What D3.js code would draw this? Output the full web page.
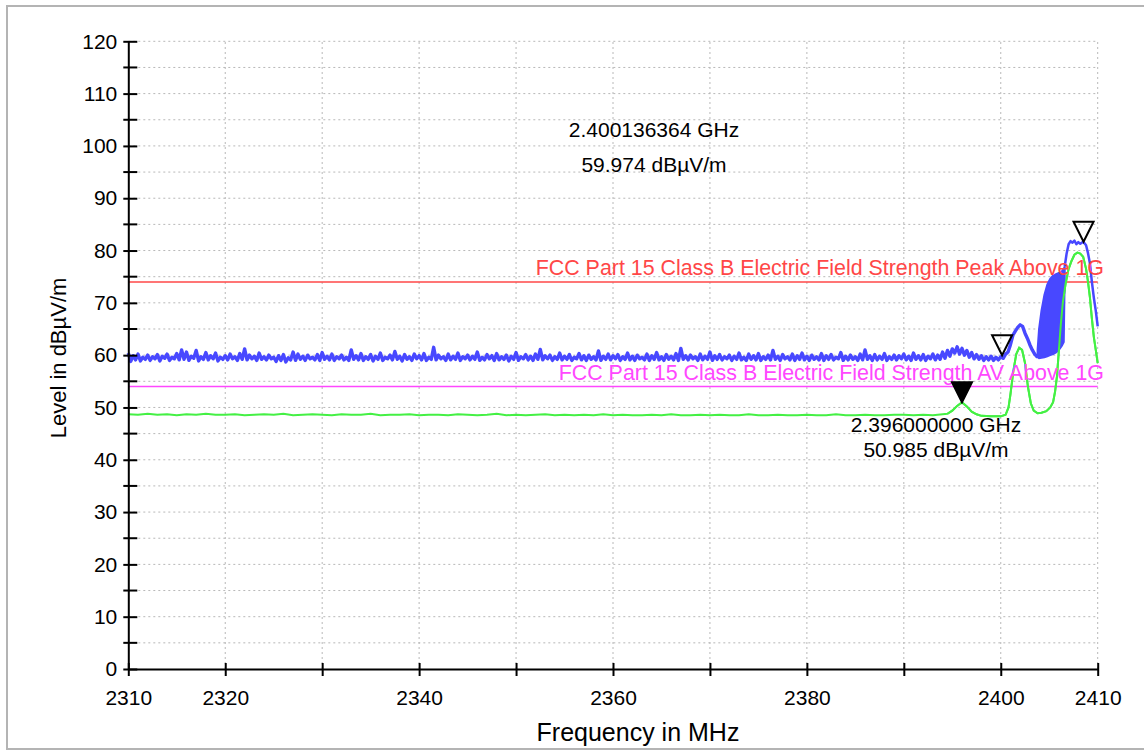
<!DOCTYPE html>
<html>
<head>
<meta charset="utf-8">
<title>Level vs Frequency</title>
<script src="https://cdnjs.cloudflare.com/ajax/libs/d3/7.8.5/d3.min.js"></script>
<style>
    body { margin:0; background:#fff; }
    svg { display:block; font-family:"Liberation Sans", Arial, sans-serif; }
    .axis text { font-size:21px; fill:#000; }
    .axis path, .axis line { stroke:#000; stroke-width:2px; }
    .grid line { stroke:#b8b8b8; stroke-width:1px; stroke-dasharray:2,3; }
</style>
</head>
<body>
<div id="chart"></div>
<script>
// axis ticks
var xTicks = [2310, 2320, 2330, 2340, 2350, 2360, 2370, 2380, 2390, 2400, 2410];
var xLabelled = [2310, 2320, 2340, 2360, 2380, 2400, 2410];
var yTicks = [0, 10, 20, 30, 40, 50, 60, 70, 80, 90, 100, 110, 120];
var yGrid = [5, 10, 15, 20, 25, 30, 35, 40, 45, 50, 55, 60, 65, 70, 75, 80, 85, 90, 95, 100, 105, 110, 115, 120];
var yMinor = [5, 15, 25, 35, 45, 55, 65, 75, 85, 95, 105, 115];

// limit lines
var limits = [
    {name:'FCC Part 15 Class B Electric Field Strength Peak Above 1G', level:74, color:'#ff4747'},
    {name:'FCC Part 15 Class B Electric Field Strength AV Above 1G', level:54, color:'#ff47ff'}
];

// peak trace (blue), 2310 .. 2395 MHz in 0.25 MHz steps
var blueStart = 2310, blueStep = 0.25;
var blueFlat = [
    60.4, 58.8, 59.9, 59.1, 60.2, 58.9, 59.6, 59.2, 60.0, 59.0, 59.7, 59.3, 60.1, 58.9, 59.8, 59.4, 60.2, 59.0, 59.6, 59.3,
    60.3, 59.1, 61.0, 59.2, 60.6, 59.0, 59.8, 59.4, 60.9, 58.9, 59.7, 59.2, 60.5, 59.1, 59.9, 59.3, 60.4, 58.9, 59.6, 59.2,
    59.9, 59.1, 60.2, 59.3, 59.7, 59.0, 60.3, 59.2, 61.2, 59.1, 60.0, 59.3, 59.8, 59.0, 60.4, 59.2, 59.7, 59.1, 60.0, 59.3,
    59.6, 58.8, 59.9, 59.0, 60.1, 58.7, 59.5, 59.1, 60.6, 59.0, 60.2, 59.2, 59.8, 59.0, 60.0, 59.3, 59.6, 59.1, 60.1, 59.0,
    60.5, 59.2, 59.8, 59.1, 60.2, 59.0, 59.7, 59.3, 60.0, 59.1, 59.6, 59.0, 61.0, 59.2, 59.9, 59.1, 60.3, 59.0, 59.7, 59.2,
    60.1, 58.9, 59.8, 59.2, 60.4, 59.0, 59.6, 59.3, 60.0, 59.1, 60.7, 59.2, 59.8, 58.9, 60.1, 59.2, 59.7, 59.0, 60.2, 59.3,
    59.9, 59.1, 60.3, 59.0, 59.6, 59.2, 61.5, 59.1, 60.0, 59.3, 59.7, 59.0, 60.2, 59.1, 59.8, 59.2, 60.4, 59.0, 59.7, 59.3,
    60.0, 59.1, 59.8, 59.2, 60.6, 59.0, 59.6, 59.1, 60.1, 59.3, 59.9, 59.0, 60.3, 59.1, 59.7, 59.2, 60.0, 58.9, 59.8, 59.2,
    60.5, 59.0, 59.7, 59.3, 60.1, 59.1, 59.8, 59.0, 60.2, 59.2, 61.1, 59.1, 59.9, 59.3, 60.0, 59.0, 59.7, 59.2, 60.4, 59.1,
    59.8, 59.2, 60.1, 59.0, 59.6, 59.3, 60.3, 59.1, 59.9, 59.0, 60.0, 59.2, 59.7, 59.1, 60.8, 59.0, 59.8, 59.2, 60.2, 59.1,
    59.9, 59.3, 60.1, 59.0, 59.7, 59.2, 60.4, 59.1, 59.8, 59.0, 60.0, 59.3, 59.6, 59.1, 60.2, 59.0, 59.9, 59.2, 60.5, 59.1,
    59.7, 59.0, 60.1, 59.2, 59.8, 59.1, 60.3, 59.0, 61.3, 59.2, 59.9, 59.1, 60.0, 59.3, 59.7, 59.0, 60.2, 59.1, 59.8, 59.2,
    60.6, 59.0, 59.9, 59.2, 60.1, 59.1, 59.7, 59.3, 60.0, 59.0, 59.8, 59.2, 60.4, 59.1, 59.6, 59.0, 60.2, 59.2, 59.9, 59.1,
    60.3, 59.0, 59.7, 59.2, 60.0, 59.1, 60.9, 59.2, 59.8, 59.0, 60.1, 59.3, 59.7, 59.1, 60.2, 59.0, 59.9, 59.2, 60.4, 59.1,
    59.8, 59.0, 60.0, 59.2, 59.7, 59.1, 60.3, 59.0, 59.9, 59.2, 60.1, 59.1, 59.6, 59.3, 60.5, 59.0, 59.8, 59.1, 60.0, 59.2,
    59.7, 59.0, 60.2, 59.1, 61.0, 59.2, 59.9, 59.0, 60.1, 59.1, 59.8, 59.2, 60.3, 59.0, 59.7, 59.2, 60.0, 59.1, 59.9, 59.3,
    60.2, 59.1, 59.8, 59.0, 60.4, 59.2, 59.9, 59.1, 60.1, 59.0, 59.8, 59.3, 60.2, 59.1, 60.0, 59.2, 60.6, 59.4, 60.9, 59.8,
    61.2
];
// peak trace near the band edge, [MHz, dBuV/m]
var blueTail = [
    [2395.25, 60.4], [2395.5, 61.6], [2395.75, 60.2], [2396.0, 61.3], [2396.25, 60.0], [2396.5, 60.9],
    [2396.75, 59.6], [2397.0, 60.5], [2397.25, 59.3], [2397.5, 60.1], [2397.75, 59.2], [2398.0, 59.9],
    [2398.25, 59.0], [2398.5, 59.7], [2398.75, 59.1], [2399.0, 59.8], [2399.25, 59.0], [2399.5, 59.6],
    [2399.75, 59.1], [2400.0, 59.7], [2400.25, 59.4], [2400.5, 60.2], [2400.75, 60.6], [2401.0, 62.0],
    [2401.25, 63.8], [2401.5, 64.6], [2401.75, 65.3], [2402.0, 65.8], [2402.25, 65.5], [2402.5, 64.2],
    [2402.75, 63.2], [2403.0, 62.0], [2403.25, 61.0], [2403.5, 60.2], [2403.8, 59.6]
];
// rapidly toggling part of the peak trace: frequency, low and high envelope
var bandFreq = [2403.8, 2403.95, 2404.2, 2404.5, 2404.8, 2405.1, 2405.4, 2405.7, 2406.0, 2406.3, 2406.5, 2406.6];
var bandLow  = [59.6, 59.4, 59.5, 59.6, 59.8, 60.0, 60.2, 60.5, 61.0, 61.8, 62.5, 75.5];
var bandHigh = [61.0, 65.0, 68.5, 71.5, 73.5, 74.6, 75.2, 75.5, 75.7, 76.0, 76.5, 77.0];
var blueTop = [
    [2406.6, 77.0], [2406.8, 79.5], [2407.0, 81.2], [2407.2, 81.8], [2407.4, 81.5], [2407.6, 81.9],
    [2407.8, 81.2], [2408.0, 81.6], [2408.2, 81.3], [2408.5, 81.7], [2408.8, 81.0], [2409.0, 79.5],
    [2409.2, 77.5], [2409.4, 74.0], [2409.6, 71.0], [2409.8, 68.5], [2410.0, 65.5]
];

// average trace (green), 2310 .. 2394 MHz in 1 MHz steps
var greenStart = 2310, greenStep = 1;
var greenFlat = [
    48.7, 48.6, 48.8, 48.6, 48.7, 48.5, 48.7, 48.6, 48.8, 48.6, 48.6, 48.7, 48.5, 48.6, 48.7, 48.6, 48.8, 48.5, 48.6, 48.7,
    48.6, 48.5, 48.7, 48.6, 48.6, 48.8, 48.5, 48.6, 48.6, 48.7, 48.5, 48.6, 48.6, 48.5, 48.7, 48.6, 48.5, 48.6, 48.8, 48.5,
    48.6, 48.5, 48.6, 48.7, 48.5, 48.6, 48.5, 48.6, 48.5, 48.7, 48.5, 48.6, 48.5, 48.5, 48.6, 48.5, 48.7, 48.5, 48.5, 48.6,
    48.5, 48.6, 48.5, 48.5, 48.7, 48.5, 48.5, 48.6, 48.5, 48.5, 48.6, 48.5, 48.5, 48.7, 48.5, 48.5, 48.6, 48.5, 48.5, 48.6,
    48.6, 48.5, 48.6, 48.5, 48.7
];
var greenTail = [
    [2394.5, 48.8], [2395.0, 49.4], [2395.5, 50.3], [2396.0, 51.0], [2396.5, 50.2], [2397.0, 49.2],
    [2397.5, 48.7], [2398.0, 48.4], [2399.0, 48.3], [2400.0, 48.3], [2400.5, 48.6], [2400.8, 50.0],
    [2401.0, 52.5], [2401.3, 57.0], [2401.6, 60.2], [2401.9, 61.4], [2402.2, 61.0], [2402.5, 58.5],
    [2402.8, 54.0], [2403.1, 50.8], [2403.4, 49.4], [2403.8, 48.9], [2404.2, 49.0], [2404.7, 49.3],
    [2405.1, 50.0], [2405.4, 51.0], [2405.6, 53.0], [2405.8, 56.0], [2406.0, 61.0], [2406.2, 66.0],
    [2406.4, 70.0], [2406.7, 73.8], [2407.0, 76.5], [2407.3, 78.0], [2407.6, 79.2], [2407.9, 79.6],
    [2408.2, 79.4], [2408.5, 78.8], [2408.8, 76.5], [2409.0, 74.0], [2409.2, 71.0], [2409.4, 67.0],
    [2409.6, 63.5], [2409.8, 61.0], [2410.0, 58.5]
];

// markers
var markers = [
    {f:2400.136364, level:59.974, filled:false},
    {f:2408.54, level:81.7, filled:false},
    {f:2396.0, level:50.985, filled:true}
];
var markerText = [
    {lines:['2.400136364 GHz', '59.974 dB\u00b5V/m'], x:654, y:137, gap:35},
    {lines:['2.396000000 GHz', '50.985 dB\u00b5V/m'], x:936, y:432, gap:25}
];

var width = 1144, height = 751;
var svg = d3.select('#chart').append('svg')
    .attr('width', width)
    .attr('height', height);

// outer frame
svg.append('rect')
    .attr('x', 7).attr('y', 6)
    .attr('width', 1145).attr('height', 743)
    .attr('fill', '#fff')
    .attr('stroke', '#b4b4b4')
    .attr('stroke-width', 2);

var x = d3.scaleLinear().domain([2310, 2410]).range([128.3, 1097.7]);
var y = d3.scaleLinear().domain([0, 120]).range([669, 41.3]);

// grid
var grid = svg.append('g').attr('class', 'grid');
grid.selectAll('.gy').data(yGrid).enter().append('line')
    .attr('x1', x(2310)).attr('x2', x(2410))
    .attr('y1', function(d) { return y(d); })
    .attr('y2', function(d) { return y(d); });
grid.selectAll('.gx').data(xTicks.slice(1)).enter().append('line')
    .attr('x1', function(d) { return x(d); })
    .attr('x2', function(d) { return x(d); })
    .attr('y1', y(0)).attr('y2', y(120));

// limit lines
limits.forEach(function(l) {
    svg.append('line')
        .attr('x1', x(2310)).attr('x2', x(2410))
        .attr('y1', y(l.level)).attr('y2', y(l.level))
        .attr('stroke', l.color).attr('stroke-width', 1.5);
});

// traces
var line = d3.line()
    .x(function(d) { return x(d[0]); })
    .y(function(d) { return y(d[1]); });

var bluePts = blueFlat.map(function(v, i) { return [blueStart + i * blueStep, v]; }).concat(blueTail);
var greenPts = greenFlat.map(function(v, i) { return [greenStart + i * greenStep, v]; }).concat(greenTail);

svg.append('path')
    .datum(greenPts)
    .attr('d', line)
    .attr('fill', 'none')
    .attr('stroke', '#44f044')
    .attr('stroke-width', 2);

svg.append('path')
    .datum(bluePts)
    .attr('d', line)
    .attr('fill', 'none')
    .attr('stroke', '#4848ff')
    .attr('stroke-width', 3.4)
    .attr('stroke-linejoin', 'round');

var band = d3.area()
    .x(function(d, i) { return x(bandFreq[i]); })
    .y0(function(d, i) { return y(bandLow[i]); })
    .y1(function(d, i) { return y(bandHigh[i]); });
svg.append('path')
    .datum(bandFreq)
    .attr('d', band)
    .attr('fill', '#4848ff')
    .attr('stroke', '#4848ff')
    .attr('stroke-width', 2);

svg.append('path')
    .datum(blueTop)
    .attr('d', line)
    .attr('fill', 'none')
    .attr('stroke', '#4848ff')
    .attr('stroke-width', 2.5)
    .attr('stroke-linejoin', 'round');

// green drawn again on top in the band region so it stays visible
svg.append('path')
    .datum(greenTail)
    .attr('d', line)
    .attr('fill', 'none')
    .attr('stroke', '#44f044')
    .attr('stroke-width', 2);

// limit labels
limits.forEach(function(l) {
    svg.append('text')
        .attr('x', 1104)
        .attr('y', y(l.level) - 7)
        .attr('text-anchor', 'end')
        .attr('font-size', 21.4)
        .attr('fill', l.color)
        .text(l.name);
});

// axes
var xAxis = d3.axisBottom(x)
    .tickValues(xTicks)
    .tickSizeInner(7)
    .tickSizeOuter(0)
    .tickPadding(14)
    .tickFormat(function(d) { return xLabelled.indexOf(d) >= 0 ? d : ''; });
var gx = svg.append('g')
    .attr('class', 'axis')
    .attr('transform', 'translate(0,' + y(0) + ')')
    .call(xAxis);
gx.selectAll('.tick line').attr('y1', -6);

var yAxis = d3.axisLeft(y)
    .tickValues(yTicks)
    .tickSizeInner(5)
    .tickSizeOuter(0)
    .tickPadding(6);
var gy = svg.append('g')
    .attr('class', 'axis')
    .attr('transform', 'translate(' + x(2310) + ',0)')
    .call(yAxis);
gy.selectAll('.tick line').attr('x1', 9);
gy.selectAll('.minor').data(yMinor).enter().append('line')
    .attr('x1', -5).attr('x2', 9)
    .attr('y1', function(d) { return y(d); })
    .attr('y2', function(d) { return y(d); });

// axis titles
svg.append('text')
    .attr('x', 638).attr('y', 741)
    .attr('text-anchor', 'middle')
    .attr('font-size', 25)
    .text('Frequency in MHz');
svg.append('text')
    .attr('transform', 'translate(66,358) rotate(-90)')
    .attr('text-anchor', 'middle')
    .attr('font-size', 22)
    .text('Level in dB\u00b5V/m');

// markers
markers.forEach(function(m) {
    svg.append('path')
        .attr('d', 'M-10,-20L10,-20L0,0Z')
        .attr('transform', 'translate(' + x(m.f) + ',' + y(m.level) + ')')
        .attr('fill', m.filled ? '#000' : 'none')
        .attr('stroke', '#000')
        .attr('stroke-width', 2);
});

markerText.forEach(function(t) {
    t.lines.forEach(function(s, i) {
        svg.append('text')
            .attr('x', t.x)
            .attr('y', t.y + i * t.gap)
            .attr('text-anchor', 'middle')
            .attr('font-size', 21)
            .text(s);
    });
});
</script>
</body>
</html>
